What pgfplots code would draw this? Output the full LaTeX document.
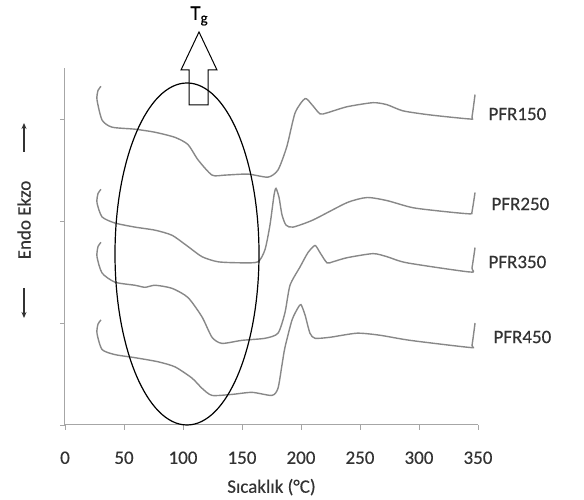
\documentclass[border=0pt]{standalone}
\usepackage{pgfplots}
\pgfplotsset{compat=1.18}
\usetikzlibrary{arrows.meta}
\usepackage{fontspec}
\setmainfont{Carlito}[FakeBold=0.35]
\definecolor{curve}{HTML}{888888}
\definecolor{axisgray}{HTML}{A6A6A6}
\definecolor{txt}{HTML}{333333}
\begin{document}
\begin{tikzpicture}[x=1pt,y=1pt]
\useasboundingbox (0,0) rectangle (584,500);
\begin{axis}[
  at={(65pt,75pt)}, anchor=south west,
  scale only axis, width=413pt, height=357pt,
  xmin=0, xmax=350, ymin=0, ymax=3.5,
  axis lines=left,
  axis line style={draw=axisgray, line width=1pt, -},
  xtick={0,50,...,350}, ytick={0,1,2,3}, yticklabels={},
  tick style={draw=axisgray, line width=0.9pt},
  major tick length=5pt, tick align=outside,
  /pgf/number format/assume math mode=true,
  xticklabel style={font=\fontsize{19}{21}\selectfont, text=txt, yshift=-18pt},
  xlabel={Sıcaklık (°C)},
  xlabel style={font=\fontsize{19}{21}\selectfont, text=txt, yshift=-8pt},
  clip=false,
]
\addplot[curve, line width=1.4pt, smooth, tension=0.4] coordinates {
(30.5,3.32) (28,3.28) (27.1,3.19) (31.4,2.99) (39.8,2.92) (59.3,2.90) (76.3,2.87)
(93.2,2.82) (104.2,2.75) (112.7,2.60) (124.6,2.45) (135.6,2.45) (155,2.46) (172,2.43)
(180.5,2.50) (188,2.73) (195,3.06) (203.4,3.20) (209.3,3.14) (216.1,3.05) (222,3.06)
(239,3.12) (261,3.16) (272.9,3.14) (286.4,3.08) (309.3,3.04) (343.2,3.00) (344.9,3.02) (347.5,3.24)
};
\addplot[curve, line width=1.4pt, smooth, tension=0.4] coordinates {
(30.5,2.31) (28,2.27) (27.1,2.18) (31.4,2.04) (42.4,1.98) (59.3,1.94) (76.3,1.91)
(90.7,1.86) (104.2,1.75) (116.1,1.65) (129.7,1.60) (150,1.59) (163.6,1.60) (169.5,1.72)
(173.7,1.96) (177.1,2.25) (178.8,2.32) (181.4,2.23) (183.9,2.06) (187.3,1.96) (193.2,1.94)
(210.2,2.01) (239,2.18) (256,2.23) (272.9,2.20) (294.9,2.13) (323.7,2.09) (343.2,2.07) (344.9,2.09) (347.5,2.28)
};
\addplot[curve, line width=1.4pt, smooth, tension=0.4] coordinates {
(30.5,1.79) (28,1.75) (27.1,1.65) (31.4,1.49) (42.4,1.40) (59.3,1.37) (67.8,1.35) (76.3,1.37)
(90.7,1.34) (104.2,1.25) (116.1,1.06) (124.6,0.86) (133,0.80) (150,0.83) (169.5,0.85)
(180.5,0.90) (186.4,1.10) (190.7,1.37) (199.2,1.55) (205.9,1.69) (211.9,1.76) (216.1,1.69)
(222,1.59) (227,1.60) (239,1.64) (261,1.68) (272.9,1.65) (289.8,1.59) (343.2,1.50) (344.9,1.54) (347.5,1.74)
};
\addplot[curve, line width=1.4pt, smooth, tension=0.4] coordinates {
(30.5,1.03) (28,0.99) (27.1,0.90) (31.4,0.74) (42.4,0.69) (59.3,0.66) (78.8,0.62)
(93.2,0.57) (107.6,0.46) (116.1,0.36) (124.6,0.29) (141.5,0.30) (158.5,0.32) (175.4,0.29)
(180.5,0.36) (183.9,0.59) (186.4,0.76) (192.4,1.03) (197.5,1.15) (200,1.18) (203.4,1.08)
(207.6,0.90) (211.9,0.85) (224.6,0.86) (247.5,0.90) (266.9,0.88) (292.4,0.83) (343.2,0.76) (344.9,0.78) (347.5,1.00)
};
\end{axis}
% y label with arrows
\node[rotate=90, text=txt, font=\fontsize{19}{21}\selectfont] at (24,280) {Endo Ekzo};
\draw[txt, line width=1.1pt, -{Stealth[length=6pt,width=5pt]}] (24,348) -- (24,377);
\draw[txt, line width=1.1pt, -{Stealth[length=6pt,width=5pt]}] (24,212) -- (24,182);
% series labels
\begin{scope}[every node/.style={anchor=west, text=txt, font=\fontsize{19}{21}\selectfont}]
\node at (485,386) {PFR150};
\node at (488,296) {PFR250};
\node at (485,238) {PFR350};
\node at (490,163) {PFR450};
\end{scope}
% ellipse
\draw[black, line width=1.2pt] (187,246) ellipse [x radius=72, y radius=171];
% hollow arrow
\draw[black, line width=1pt] (199,468) -- (217,430) -- (208,430) -- (208,395) -- (189,395) -- (189,430) -- (181,430) -- cycle;
\node[text=black, font=\fontsize{21}{23}\selectfont, inner sep=0pt] at (199,484) {T\raisebox{-0.3ex}{\fontsize{15}{17}\selectfont g}};
\end{tikzpicture}
\end{document}
